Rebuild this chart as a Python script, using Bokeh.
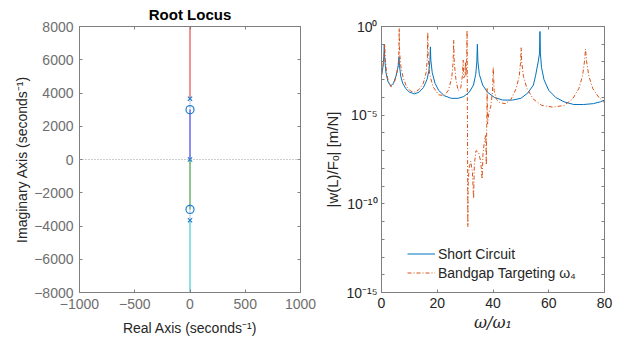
from bokeh.plotting import figure
from bokeh.layouts import row
from bokeh.models import (FixedTicker, Span, Legend, LegendItem, LinearAxis, LogAxis,
                          Range1d, CustomJSTickFormatter)
from bokeh.embed import file_html
from bokeh.resources import INLINE

# ---------------- Root locus data (real part, imaginary part) ----------------
branch_red_imag = [3650, 8000]
branch_blue_imag = [0, 3000]
branch_green_imag = [0, -3000]
branch_cyan_imag = [-3650, -8000]
connector_upper_imag = [3000, 3650]
connector_lower_imag = [-3000, -3650]
pole_real = [0, 0, 0]
pole_imag = [0, 3650, -3650]
zero_real = [0, 0]
zero_imag = [3000, -3000]
locus_x_ticks = [-1000, -500, 0, 500, 1000]
locus_y_ticks = [-8000, -6000, -4000, -2000, 0, 2000, 4000, 6000, 8000]

# ---------------- Frequency response data (omega/omega1, log10 |w(L)/Fo|) ----------------
short_x = [0, 0.5, 0.85, 1.0, 1.15, 1.6, 2.3, 3.3, 4.3, 5.2, 5.9, 6.15, 6.27, 6.45, 6.9, 7.6,
           8.7, 10.0, 11.8, 13.5, 15.0, 16.3, 17.0, 17.4, 17.55, 17.7, 18.2, 19.2, 20.5, 22.5,
           25.0, 27.5, 29.5, 31.5, 33.0, 33.8, 34.2, 34.39, 34.6, 35.1, 36.3, 38.0, 40.5, 43.5,
           47.0, 50.0, 52.5, 54.5, 55.3, 56.2, 56.7, 56.84, 57.0, 57.4, 58.3, 60.0, 62.5, 65.5,
           69.0, 72.5, 76.0, 78.5, 80.0]
short_log = [-2.75, -2.3, -1.7, -1.0, -1.8, -2.6, -3.1, -3.35, -3.2, -2.8, -2.3, -2.0, -1.7, -2.2,
             -2.8, -3.2, -3.5, -3.7, -3.8, -3.7, -3.45, -3.0, -2.5, -1.9, -1.15, -1.9, -2.6,
             -3.2, -3.6, -3.9, -4.05, -4.05, -3.95, -3.7, -3.3, -2.7, -2.0, -1.0, -2.0, -2.7,
             -3.3, -3.7, -4.0, -4.15, -4.15, -4.05, -3.75, -3.3, -2.75, -2.0, -1.5, -0.28, -1.5,
             -2.3, -3.0, -3.6, -4.0, -4.25, -4.4, -4.4, -4.35, -4.25, -4.15]

bandgap_x = [0, 0.6, 0.95, 1.15, 1.35, 1.8, 2.5, 3.4, 4.4, 5.3, 6.0, 6.22, 6.35, 6.5, 7.0, 7.8,
             9.0, 10.5, 12.0, 13.5, 15.0, 16.0, 16.45, 16.6, 16.75, 17.3, 18.5, 20.5, 22.5, 24.0,
             25.2, 25.7, 25.9, 26.1, 26.7, 27.5, 28.4, 29.0, 29.3, 29.5, 29.9, 30.1, 30.3, 30.55,
             30.7, 30.8, 30.9, 30.97, 31.05, 31.4, 32.0, 32.6, 33.05, 33.3, 33.9, 34.8, 35.6,
             36.1, 36.4, 36.9, 37.4, 37.6, 37.75, 37.9, 38.05, 38.5, 39.2, 39.8, 40.1, 40.4, 41.2,
             42.5, 44.5, 46.5, 48.3, 49.4, 49.9, 50.1, 50.3, 50.9, 52.2, 54.5, 57.5, 61.5, 65.5,
             68.5, 70.8, 72.1, 72.8, 73.2, 73.6, 74.4, 75.8, 78.0, 80.0]
bandgap_log = [-2.75, -2.2, -1.6, -1.0, -1.8, -2.6, -3.1, -3.4, -3.25, -2.8, -2.2, -1.5, -0.1,
               -1.5, -2.3, -2.9, -3.4, -3.65, -3.7, -3.55, -3.2, -2.6, -1.8, -0.33, -1.8, -2.7,
               -3.4, -3.85, -3.9, -3.6, -2.9, -2.0, -0.77, -2.0, -3.0, -3.6, -3.5, -2.8, -1.9,
               -2.9, -2.8, -2.0, -2.8, -2.0, -0.22, -4.0, -8.0, -11.3, -9.0, -8.0, -7.6, -8.2,
               -9.7, -7.8, -7.0, -7.1, -7.6, -8.6, -7.2, -6.5, -6.1, -7.8, -5.6, -3.5, -5.5, -4.9,
               -4.5, -3.7, -2.3, -3.6, -4.1, -4.3, -4.35, -4.1, -3.5, -2.8, -2.0, -1.2, -2.0,
               -2.8, -3.5, -4.1, -4.45, -4.55, -4.45, -4.1, -3.5, -2.8, -2.0, -1.27, -2.0, -2.8,
               -3.5, -4.0, -4.3]

freq_x_ticks = [0, 20, 40, 60, 80]
freq_y_decades = list(range(-15, 1))

short_y = [10.0 ** v for v in short_log]
bandgap_y = [10.0 ** v for v in bandgap_log]

FONT = "Liberation Sans"
BOX = "#7f7f7f"
TXT = "#262626"


def blank_axis(cls, ticks):
    return cls(ticker=FixedTicker(ticks=ticks),
               formatter=CustomJSTickFormatter(code="return '';"),
               axis_line_color=BOX, major_tick_line_color=BOX, major_tick_in=3,
               major_tick_out=0, minor_tick_line_color=None, major_label_standoff=0)


# ---------------- Left: root locus ----------------
p1 = figure(width=318, height=349, x_range=Range1d(-1000, 1000), y_range=Range1d(-8000, 8000),
            output_backend="svg", toolbar_location=None, title="Root Locus",
            min_border_left=79, min_border_right=18, min_border_top=26, min_border_bottom=57)
p1.title.align = "center"
p1.title.text_font = FONT
p1.title.text_font_size = "15px"
p1.title.text_font_style = "bold"
p1.title.text_color = "#000000"
p1.title.offset = 0
p1.title.standoff = 7
p1.grid.visible = False
p1.outline_line_color = BOX
p1.background_fill_color = "white"

p1.xaxis.ticker = FixedTicker(ticks=locus_x_ticks)
p1.yaxis.ticker = FixedTicker(ticks=locus_y_ticks)
p1.xaxis.axis_label = "Real Axis (seconds\u207b\u00b9)"
p1.yaxis.axis_label = "Imaginary Axis (seconds\u207b\u00b9)"
for ax in (p1.xaxis[0], p1.yaxis[0]):
    ax.axis_line_color = BOX
    ax.major_tick_line_color = BOX
    ax.major_tick_in = 3
    ax.major_tick_out = 0
    ax.minor_tick_line_color = None
    ax.major_label_text_font = FONT
    ax.major_label_text_font_size = "14px"
    ax.major_label_text_color = "#6e6e6e"
    ax.axis_label_text_font = FONT
    ax.axis_label_text_font_size = "14px"
    ax.axis_label_text_font_style = "normal"
    ax.axis_label_text_color = TXT
p1.yaxis.major_label_standoff = 6
p1.xaxis.major_label_standoff = 6
p1.yaxis.axis_label_standoff = 1
p1.xaxis.axis_label_standoff = 8

p1.add_layout(blank_axis(LinearAxis, locus_y_ticks), "right")
p1.add_layout(blank_axis(LinearAxis, locus_x_ticks), "above")

p1.add_layout(Span(location=0, dimension="width", line_color="#9a9a9a", line_dash="1 2",
                   line_width=1))

zeros2 = [0, 0]
p1.line(zeros2, branch_red_imag, line_color="#e8262a", line_width=1)
p1.line(zeros2, branch_blue_imag, line_color="#1a1aeb", line_width=1)
p1.line(zeros2, branch_green_imag, line_color="#1e8c1e", line_width=1)
p1.line(zeros2, branch_cyan_imag, line_color="#1fc0c8", line_width=1)
p1.line(zeros2, connector_upper_imag, line_color="#7a8fb0", line_width=1, line_dash="1 1")
p1.line(zeros2, connector_lower_imag, line_color="#7a8fb0", line_width=1, line_dash="1 1")
p1.scatter(pole_real, pole_imag, marker="x", size=6, line_color="#1f7fd0", line_width=1.2)
p1.scatter(zero_real, zero_imag, marker="circle", size=8, line_color="#1f7fd0",
           fill_color=None, line_width=1.2)

# ---------------- Right: frequency response ----------------
p2 = figure(width=318, height=349, x_range=Range1d(0, 80), y_range=Range1d(1e-15, 1),
            y_axis_type="log", output_backend="svg", toolbar_location=None,
            min_border_left=63, min_border_right=32, min_border_top=25, min_border_bottom=50)
p2.grid.visible = False
p2.outline_line_color = BOX

sup_fmt = CustomJSTickFormatter(code="""
const e = Math.round(Math.log10(tick));
if (e % 5 != 0) { return ''; }
const m = {'0':'\u2070','1':'\u00b9','2':'\u00b2','3':'\u00b3','4':'\u2074','5':'\u2075',
           '6':'\u2076','7':'\u2077','8':'\u2078','9':'\u2079','-':'\u207b'};
let s = '';
for (const c of String(e)) { s += m[c]; }
return '10' + s;
""")
p2.xaxis.ticker = FixedTicker(ticks=freq_x_ticks)
p2.yaxis.ticker = FixedTicker(ticks=[10.0 ** d for d in freq_y_decades])
p2.yaxis.formatter = sup_fmt
p2.xaxis.axis_label = "\u03c9/\u03c9\u2081"
p2.yaxis.axis_label = "|w(L)/F\u2092| [m/N]"
for ax in (p2.xaxis[0], p2.yaxis[0]):
    ax.axis_line_color = BOX
    ax.major_tick_line_color = BOX
    ax.major_tick_in = 3
    ax.major_tick_out = 0
    ax.minor_tick_line_color = None
    ax.major_label_text_font = FONT
    ax.major_label_text_font_size = "14px"
    ax.major_label_text_color = TXT
    ax.axis_label_text_font_size = "15px"
    ax.axis_label_text_font_style = "normal"
    ax.axis_label_text_color = TXT
p2.yaxis.axis_label_text_font = FONT
p2.xaxis.axis_label_text_font = "DejaVu Serif"
p2.xaxis.axis_label_text_font_style = "italic"
p2.xaxis.axis_label_text_font_size = "16px"
p2.yaxis.major_label_standoff = 4
p2.xaxis.major_label_standoff = 5
p2.yaxis.axis_label_standoff = 2
p2.xaxis.axis_label_standoff = 2

p2.add_layout(blank_axis(LogAxis, [10.0 ** d for d in freq_y_decades]), "right")
p2.add_layout(blank_axis(LinearAxis, freq_x_ticks), "above")

r_short = p2.line(short_x, short_y, line_color="#0072BD", line_width=1)
r_band = p2.line(bandgap_x, bandgap_y, line_color="#D95319", line_width=1, line_dash="4 2 1 2")

legend = Legend(items=[LegendItem(label="Short Circuit", renderers=[r_short]),
                       LegendItem(label="Bandgap Targeting \u03c9\u2084", renderers=[r_band])],
                location=(26, 10), background_fill_alpha=0, border_line_alpha=0,
                padding=0, margin=0, spacing=0, glyph_width=28, glyph_height=19,
                label_height=19, label_standoff=3, label_text_font=FONT,
                label_text_font_size="14px", label_text_color=TXT)
p2.add_layout(legend)

layout = row(p1, p2)
open("out.html", "w").write(file_html(layout, INLINE))
